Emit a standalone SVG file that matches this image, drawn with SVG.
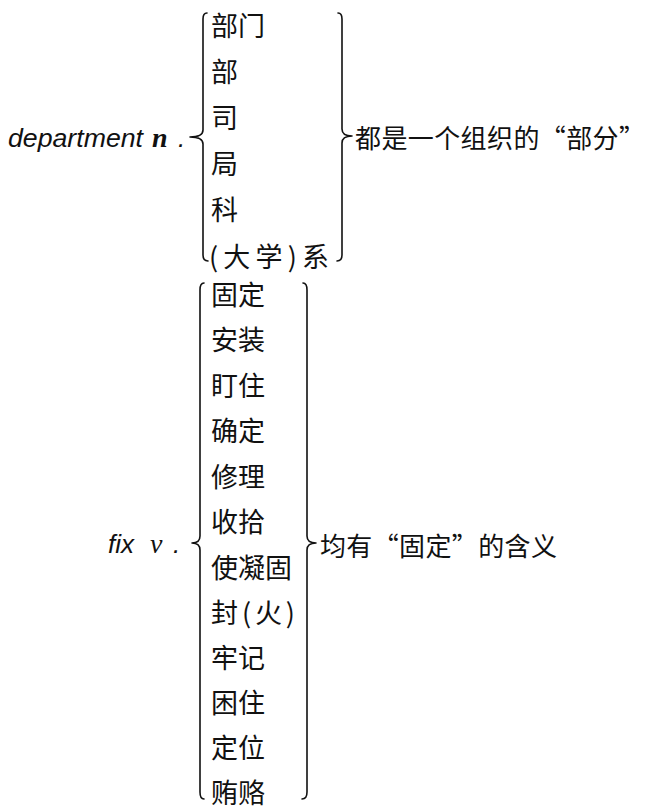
<svg xmlns="http://www.w3.org/2000/svg" width="651" height="808" viewBox="0 0 651 808">
<style>
.bg{fill:#fff}
.cjk{font-family:"Noto Sans CJK SC","Noto Sans CJK JP",sans-serif;font-size:27px;fill:#111;dominant-baseline:central}
.lab{font-family:"Noto Sans CJK SC","Noto Sans CJK JP",sans-serif;font-size:26px;fill:#111;dominant-baseline:central}
.en{font-family:"Liberation Sans",Arial,sans-serif;font-style:italic;font-size:26px;fill:#111}
.pos{font-family:"Liberation Serif","Times New Roman",serif;font-style:italic;font-size:28px;fill:#111}
.brace{fill:none;stroke:#111;stroke-width:1.6;stroke-linecap:round;stroke-linejoin:round}
</style>
<rect class="bg" x="0" y="0" width="651" height="808"/>
<g id="connectors">
<path class="brace" d="M207 13 Q203 13 203 19 L203 130 Q203 137 190 137 Q203 137 203 144 L203 255 Q203 261 208 261"/>
<path class="brace" d="M338 13 Q342 13 342 19 L342 129 Q342 136 352 136 Q342 136 342 143 L342 255 Q342 261 337 261"/>
<path class="brace" d="M204 283 Q200 283 200 290 L200 536 Q200 543 192 543 Q200 543 200 550 L200 792 Q200 799 204 799"/>
<path class="brace" d="M303 283 Q307 283 307 290 L307 536 Q307 543 316 543 Q307 543 307 550 L307 792 Q307 799 302 799"/>
</g>
<g id="department">
<text class="en" x="8" y="147" textLength="135" lengthAdjust="spacingAndGlyphs">department</text>
<text class="pos" x="152" y="147" font-weight="bold">n</text>
<text class="en" x="178" y="147">.</text>
</g>
<g id="department-meanings">
<text class="cjk" x="211" y="24.5">部门</text>
<text class="cjk" x="211" y="70.6">部</text>
<text class="cjk" x="211" y="116.7">司</text>
<text class="cjk" x="211" y="162.8">局</text>
<text class="cjk" x="211" y="208.9">科</text>
<text class="cjk" x="209" y="255" textLength="120" lengthAdjust="spacing">(大学)系</text>
</g>
<g id="department-note">
<text class="lab" x="355" y="136" textLength="290" lengthAdjust="spacing">都是一个组织的“部分”</text>
</g>
<g id="fix">
<text class="en" x="108" y="553">fix</text>
<text class="pos" x="150" y="553">v</text>
<text class="en" x="173" y="553">.</text>
</g>
<g id="fix-meanings">
<text class="cjk" x="211" y="293">固定</text>
<text class="cjk" x="211" y="338.5">安装</text>
<text class="cjk" x="211" y="384">盯住</text>
<text class="cjk" x="211" y="429.5">确定</text>
<text class="cjk" x="211" y="475">修理</text>
<text class="cjk" x="211" y="520.5">收拾</text>
<text class="cjk" x="211" y="566">使凝固</text>
<text class="cjk" x="211" y="611.5" textLength="84" lengthAdjust="spacing">封(火)</text>
<text class="cjk" x="211" y="656.5">牢记</text>
<text class="cjk" x="211" y="701.5">困住</text>
<text class="cjk" x="211" y="746.5">定位</text>
<text class="cjk" x="211" y="791">贿赂</text>
</g>
<g id="fix-note">
<text class="lab" x="320" y="544" textLength="237" lengthAdjust="spacing">均有“固定”的含义</text>
</g>
</svg>
